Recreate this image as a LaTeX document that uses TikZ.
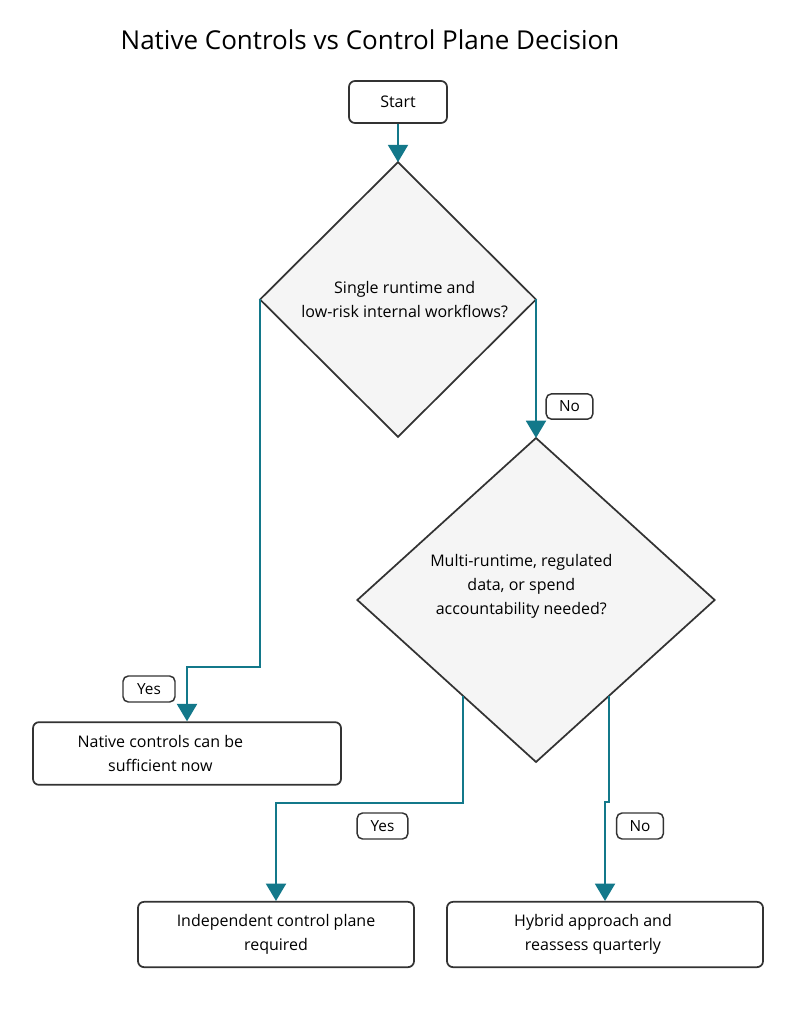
\documentclass[tikz,border=0pt]{standalone}
\usepackage{fontspec}
\setmainfont{Open Sans}
\usetikzlibrary{shapes.geometric,arrows.meta,calc}
\definecolor{flowteal}{HTML}{13788A}
\definecolor{edgegray}{HTML}{333333}
\definecolor{decfill}{HTML}{F5F5F5}

\begin{document}
\begin{tikzpicture}[x=0.75pt,y=-0.75pt,
    box/.style={draw=edgegray, line width=1.3pt, rounded corners=4.5pt, fill=white, align=center, font=\fontsize{12}{18}\selectfont},
    decision/.style={diamond, draw=edgegray, line width=1.3pt, fill=decfill, inner sep=0pt, outer sep=0pt},
    qtext/.style={align=center, font=\fontsize{12}{18}\selectfont},
    tag/.style={draw=edgegray, line width=1.1pt, rounded corners=4pt, fill=white, inner sep=0pt, font=\fontsize{11.5}{12}\selectfont},
    flow/.style={draw=flowteal, line width=1.5pt, -{Triangle[width=15pt,length=13pt]}}]
    \useasboundingbox (0,0) rectangle (796,1023);
    % Title
    \node[font=\fontsize{19.5}{24}\selectfont] (title) at (370,40) {Native Controls vs Control Plane Decision};
    % Start
    \node[box, minimum width=73.5pt, minimum height=31.5pt] (start) at (398,102) {Start};
    % Decisions
    \node[decision, minimum width=207pt, minimum height=206pt,
        label={[qtext, xshift=5pt]center:Single runtime and\\low-risk internal workflows?}] (single) at (398,299.5) {};
    \node[decision, minimum width=268pt, minimum height=243pt,
        label={[qtext, xshift=-11pt, yshift=10pt]center:Multi-runtime, regulated\\data, or spend\\accountability needed?}] (multi) at (536,600) {};
    % Outcomes
    \node[box, minimum width=231pt, minimum height=47pt,
        label={[qtext, xshift=-20pt]center:Native controls can be\\sufficient now}] (native) at (187,753.5) {};
    \node[box, minimum width=207pt, minimum height=49pt] (independent) at (276,934.5) {Independent control plane\\required};
    \node[box, minimum width=237pt, minimum height=49pt,
        label={[qtext, xshift=-9pt]center:Hybrid approach and\\reassess quarterly}] (hybrid) at (605,934.5) {};
    % Connectors
    \draw[flow] (start.south) -- (single.north);
    \draw[flow] (single.west) -- ++(0,367) -| (native.north);
    \draw[flow] (single.east) -- (multi.north);
    \draw[flow] ($(multi.west)!0.59!(multi.south)$) -- ++(0,107) -| (independent.north);
    \draw[flow] ($(multi.south)!0.41!(multi.east)$) -- ++(0,106) -| (hybrid.north);
    % Edge labels
    \node[tag, minimum width=39pt, minimum height=19.5pt] (yesnative) at (149,689) {Yes};
    \node[tag, minimum width=35pt, minimum height=19pt] (nomulti) at (569.5,406.5) {No};
    \node[tag, minimum width=38pt, minimum height=19.5pt] (yesindependent) at (382.5,826) {Yes};
    \node[tag, minimum width=35pt, minimum height=19.5pt] (nohybrid) at (640,826) {No};
\end{tikzpicture}
\end{document}
